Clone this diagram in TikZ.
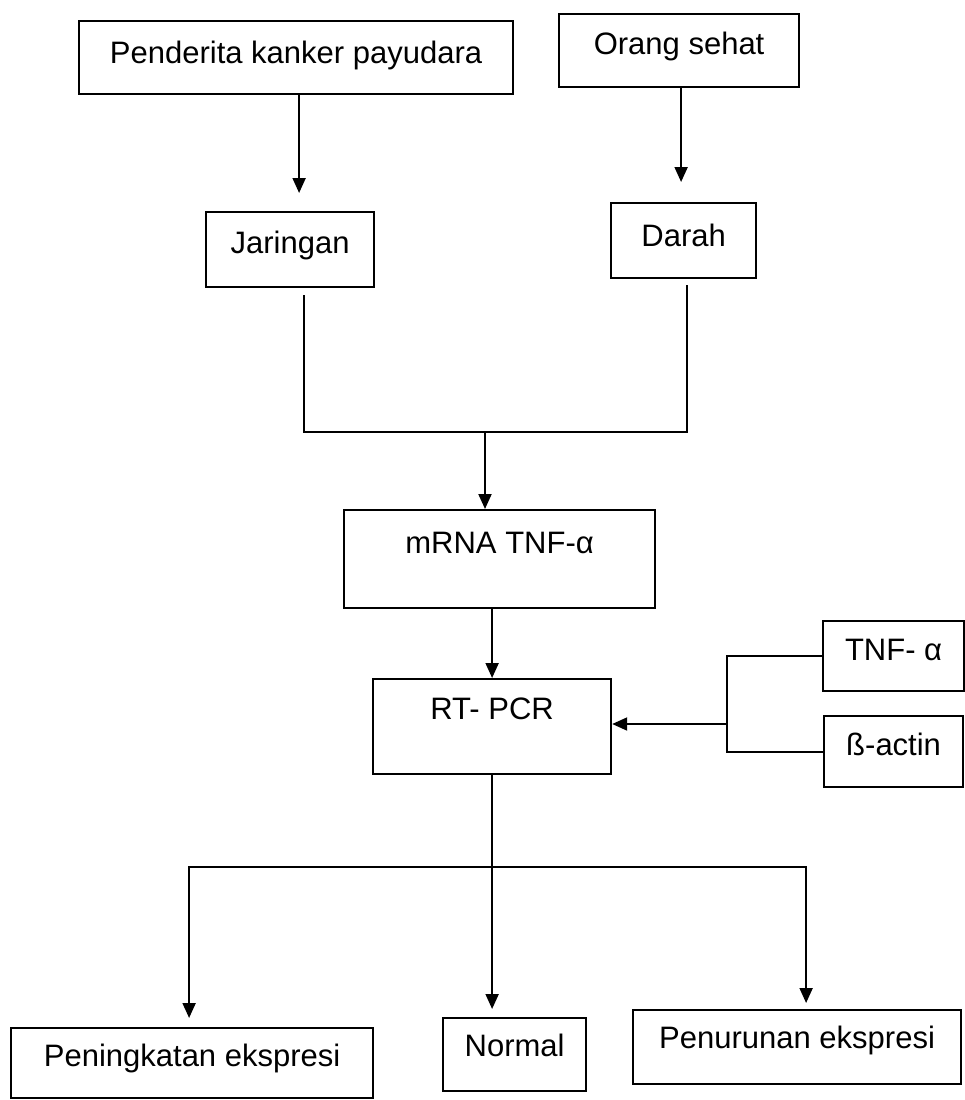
\documentclass[tikz,border=0pt]{standalone}
\usepackage{fontspec}
\setmainfont{Liberation Sans}
\usetikzlibrary{arrows.meta}
\begin{document}
\begin{tikzpicture}[x=1pt,y=-1pt,
  box/.style={draw, line width=2.2pt, anchor=north west, inner xsep=0pt, inner ysep=0pt,
    font=\fontsize{31}{36}\selectfont},
  conn/.style={line width=2pt},
  arr/.style={line width=2pt, -{Triangle[length=15pt,width=13pt]}}]
\useasboundingbox (0,0) rectangle (965,1100);
\node[box, minimum width=434pt, text height=42pt, text depth=31pt] (pend) at (78,20) {Penderita kanker payudara};
\node[box, minimum width=240pt, text height=40pt, text depth=33pt] (orang) at (558,13) {Orang sehat};
\node[box, minimum width=168pt, text height=41pt, text depth=34pt] (jar) at (205,211) {Jaringan};
\node[box, minimum width=145pt, text height=43pt, text depth=32pt] (dar) at (610,202) {Darah};
\node[box, minimum width=311pt, text height=43pt, text depth=55pt] (mrna) at (343,509) {mRNA TNF-α};
\node[box, minimum width=238pt, text height=40pt, text depth=55pt] (rtpcr) at (372,678) {RT- PCR};
\node[box, minimum width=141pt, text height=39pt, text depth=31pt] (tnf) at (822,620) {TNF- α};
\node[box, minimum width=139pt, text height=39pt, text depth=32pt] (bact) at (823,715) {ß-actin};
\node[box, minimum width=362pt, text height=38pt, text depth=32pt] (ping) at (10,1027) {Peningkatan ekspresi};
\node[box, minimum width=143pt, text height=38pt, text depth=35pt] (normal) at (442,1017) {Normal};
\node[box, minimum width=328pt, text height=38pt, text depth=36pt] (penur) at (632,1009) {Penurunan ekspresi};

\coordinate (merge) at (485,432);
\coordinate (brk) at (727,724);
\coordinate (split) at (492,867);

\draw[arr, shorten >=18pt] ([xshift=3pt]pend.south) -- ([xshift=3pt]pend.south |- jar.north);
\draw[arr, shorten >=20pt] ([xshift=2pt]orang.south) -- ([xshift=2pt]orang.south |- dar.north);
\draw[conn] ([xshift=14pt,yshift=-7pt]jar.south) |- (merge) -| ([xshift=3pt,yshift=-6pt]dar.south);
\draw[arr] (merge) -- (merge |- mrna.north);
\draw[arr] (rtpcr.north |- mrna.south) -- (rtpcr.north);
\draw[conn] (tnf.west) -| (brk) |- (bact.west);
\draw[arr] (brk) -- (brk -| rtpcr.east);
\draw[arr, shorten >=8pt] (rtpcr.south) -- (rtpcr.south |- normal.north);
\draw[arr, shorten >=9pt] (split) -| ([xshift=-3pt]ping.north);
\draw[arr, shorten >=6pt] (split) -| ([xshift=9pt]penur.north);
\end{tikzpicture}
\end{document}
